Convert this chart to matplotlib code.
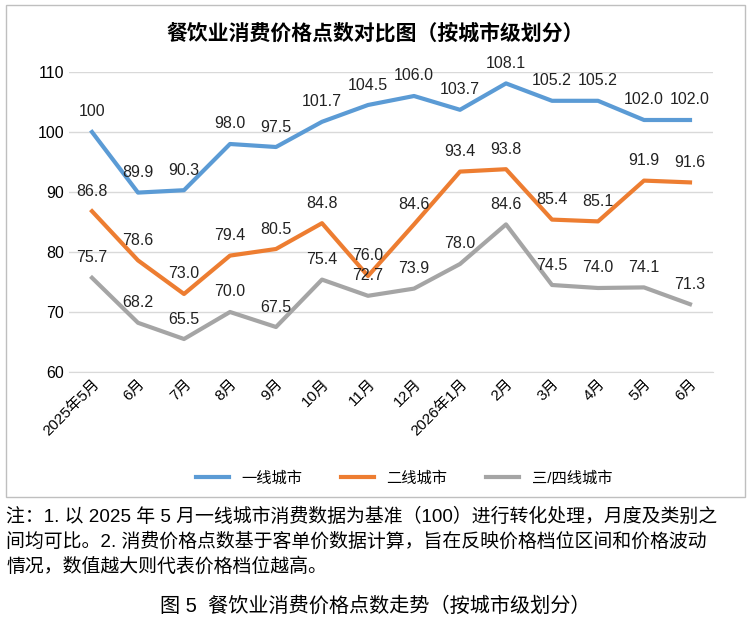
import matplotlib
matplotlib.use("Agg")
import matplotlib.pyplot as plt
from matplotlib.patches import Rectangle

plt.rcParams['font.family'] = ['Liberation Sans', 'Noto Sans CJK SC', 'DejaVu Sans']

months = ["2025年5月", "6月", "7月", "8月", "9月", "10月", "11月", "12月",
          "2026年1月", "2月", "3月", "4月", "5月", "6月"]
tier1 = [100, 89.9, 90.3, 98.0, 97.5, 101.7, 104.5, 106.0, 103.7, 108.1, 105.2, 105.2, 102.0, 102.0]
tier2 = [86.8, 78.6, 73.0, 79.4, 80.5, 84.8, 76.0, 84.6, 93.4, 93.8, 85.4, 85.1, 91.9, 91.6]
tier3 = [75.7, 68.2, 65.5, 70.0, 67.5, 75.4, 72.7, 73.9, 78.0, 84.6, 74.5, 74.0, 74.1, 71.3]
labels1 = ["100", "89.9", "90.3", "98.0", "97.5", "101.7", "104.5", "106.0", "103.7", "108.1", "105.2", "105.2", "102.0", "102.0"]
names = ["一线城市", "二线城市", "三/四线城市"]
colors = ["#5b9bd5", "#ed7d31", "#a5a5a5"]

fig = plt.figure(figsize=(7.51, 6.33), dpi=100)
fig.patches.append(Rectangle((6/751, 1-497/633), 739/751, 492/633, transform=fig.transFigure,
                             fill=False, edgecolor="#bfbfbf", lw=1))
ax = fig.add_axes([69/751, 1-372/633, 644/751, 300/633])
x = list(range(len(months)))
for i, (ys, c) in enumerate(zip([tier1, tier2, tier3], colors)):
    ax.plot(x, ys, color=c, lw=3, label=names[i])
    for j, (xx, yy) in enumerate(zip(x, ys)):
        t = labels1[j] if i == 0 else f"{yy:.1f}"
        ax.annotate(t, (xx, yy), xytext=(0, 9), textcoords="offset points",
                    ha="center", va="bottom", fontsize=11.5, color="#222222")
ax.set_xlim(-0.5, len(months) - 0.5)
ax.set_ylim(60, 110)
ax.set_yticks([60, 70, 80, 90, 100, 110])
ax.tick_params(axis='y', labelsize=11.5, length=0)
ax.set_xticks(x)
ax.set_xticklabels(months, rotation=45, ha="right", rotation_mode="anchor", fontsize=11)
ax.tick_params(axis='x', length=0)
ax.grid(axis='y', color="#d9d9d9", lw=1)
ax.set_axisbelow(True)
for s in ax.spines.values():
    s.set_visible(False)
ax.spines['bottom'].set_visible(True)
ax.spines['bottom'].set_color("#d9d9d9")

fig.text(0.5, 1-33/633, "餐饮业消费价格点数对比图（按城市级划分）", ha="center", va="center",
         fontsize=15, fontweight="bold")
ax.legend(loc="upper center", bbox_to_anchor=(0.52, -0.285), ncol=3, frameon=False, fontsize=11,
          handlelength=2.2, columnspacing=2.5)
note = ("注：1. 以 2025 年 5 月一线城市消费数据为基准（100）进行转化处理，月度及类别之\n"
        "间均可比。2. 消费价格点数基于客单价数据计算，旨在反映价格档位区间和价格波动\n"
        "情况，数值越大则代表价格档位越高。")
fig.text(6/751, 1-508/633, note, ha="left", va="top", fontsize=13.6, linespacing=1.45)
fig.text(0.5, 1-606/633, "图 5  餐饮业消费价格点数走势（按城市级划分）", ha="center", va="center", fontsize=14.5)
fig.savefig("out.png", dpi=100)
